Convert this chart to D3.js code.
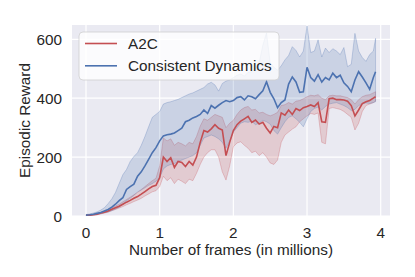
<!DOCTYPE html>
<html>
<head>
<meta charset="utf-8">
<script src="https://cdn.jsdelivr.net/npm/d3@7"></script>
<style>
  body { margin: 0; background: #fff; }
  text { font-family: "Liberation Sans", Arial, sans-serif; fill: #262626; }
</style>
</head>
<body>
<div id="chart"></div>
<script>
// frames (millions)
var frames = [0, 0.05, 0.1, 0.15, 0.2, 0.25, 0.3, 0.35, 0.4, 0.45, 0.5, 0.55, 0.6, 0.65, 0.7, 0.75, 0.8, 0.85, 0.9, 0.95,
  1.0, 1.05, 1.1, 1.15, 1.2, 1.25, 1.3, 1.35, 1.4, 1.45, 1.5, 1.55, 1.6, 1.65, 1.7, 1.75, 1.8, 1.85, 1.9, 1.95,
  2.0, 2.05, 2.1, 2.15, 2.2, 2.25, 2.3, 2.35, 2.4, 2.45, 2.5, 2.55, 2.6, 2.65, 2.7, 2.75, 2.8, 2.85, 2.9, 2.95,
  3.0, 3.05, 3.1, 3.15, 3.2, 3.25, 3.3, 3.35, 3.4, 3.45, 3.5, 3.55, 3.6, 3.65, 3.7, 3.75, 3.8, 3.85, 3.9, 3.93];

// A2C
var a2c = [2, 3, 4, 6, 10, 13, 17, 23, 28, 33, 40, 47, 53, 60, 66, 74, 83, 92, 100, 104,
  130, 200, 185, 198, 165, 185, 182, 168, 185, 173, 200, 250, 290, 285, 296, 310, 298, 292, 205, 250,
  290, 310, 322, 330, 338, 318, 326, 312, 318, 298, 282, 304, 300, 350, 342, 360, 345, 365, 358, 368,
  372, 377, 372, 385, 320, 318, 398, 400, 395, 395, 394, 390, 375, 340, 360, 382, 388, 392, 400, 405];
var a2cLow = [1, 2, 3, 4, 7, 10, 13, 18, 22, 27, 32, 38, 43, 49, 54, 60, 68, 75, 82, 86,
  100, 135, 120, 130, 110, 125, 118, 110, 125, 120, 145, 175, 200, 215, 225, 225, 200, 150, 122, 170,
  235, 248, 252, 240, 230, 215, 220, 205, 215, 200, 180, 175, 190, 250, 275, 285, 295, 303, 320, 330,
  340, 348, 345, 350, 250, 245, 365, 368, 365, 362, 355, 345, 335, 292, 315, 355, 375, 380, 385, 390];
var a2cHigh = [3, 4, 6, 8, 12, 16, 21, 28, 34, 40, 48, 56, 64, 72, 80, 90, 100, 110, 120, 128,
  170, 265, 255, 262, 240, 250, 245, 238, 250, 245, 270, 305, 330, 325, 335, 345, 340, 335, 300, 315,
  325, 345, 360, 368, 372, 360, 362, 350, 352, 345, 340, 345, 352, 375, 378, 385, 380, 390, 392, 398,
  405, 410, 408, 412, 400, 395, 408, 410, 408, 408, 405, 402, 395, 380, 395, 405, 410, 412, 418, 422];

// Consistent Dynamics
var cd = [3, 4, 6, 9, 12, 17, 22, 30, 40, 52, 62, 90, 100, 108, 135, 150, 170, 192, 215, 232,
  255, 272, 276, 278, 282, 290, 298, 320, 325, 333, 338, 345, 360, 348, 375, 366, 376, 385, 392, 388,
  392, 402, 405, 394, 408, 405, 398, 412, 425, 456, 420, 398, 368, 385, 394, 448, 472, 455, 420, 422,
  505, 470, 458, 480, 455, 470, 462, 485, 470, 478, 452, 440, 422, 462, 490, 472, 452, 430, 470, 490];
var cdLow = [2, 3, 4, 6, 8, 11, 14, 18, 24, 30, 40, 52, 60, 70, 82, 88, 96, 104, 110, 118,
  130, 160, 170, 175, 178, 185, 190, 195, 200, 205, 215, 240, 265, 270, 275, 270, 262, 250, 230, 255,
  285, 300, 315, 320, 318, 322, 310, 315, 325, 320, 312, 290, 278, 300, 320, 335, 340, 330, 318, 303,
  330, 355, 365, 370, 360, 372, 380, 383, 385, 380, 375, 368, 358, 362, 375, 380, 384, 382, 385, 388];
var cdHigh = [5, 7, 10, 14, 20, 28, 42, 58, 80, 110, 140, 158, 185, 202, 215, 240, 270, 303, 335, 345,
  355, 380, 385, 388, 392, 396, 402, 408, 414, 418, 424, 430, 436, 448, 454, 445, 424, 450, 458, 462,
  470, 478, 482, 475, 488, 490, 500, 520, 580, 622, 520, 505, 495, 510, 530, 545, 575, 562, 540, 560,
  645, 555, 560, 598, 540, 570, 555, 568, 560, 548, 572, 507, 515, 620, 560, 538, 525, 548, 560, 603];

var xTicks = [0, 1, 2, 3, 4];
var yTicks = [0, 200, 400, 600];
var seriesNames = ["A2C", "Consistent Dynamics"];

// Set the dimensions of the canvas / graph
var margin = {top: 25, right: 25, bottom: 61, left: 72},
    width = 415 - margin.left - margin.right,
    height = 277 - margin.top - margin.bottom;

var x = d3.scaleLinear().domain([-0.19, 4.126]).range([0, width]);
var y = d3.scaleLinear().domain([0, 648.5]).range([height, 0]);

var colors = {"A2C": "#c44e52", "Consistent Dynamics": "#4c72b0"};

var svg = d3.select("#chart")
    .append("svg")
      .attr("width", 415)
      .attr("height", 277)
    .append("g")
      .attr("transform", `translate(${margin.left},${margin.top})`);

// background + grid
svg.append("rect")
    .attr("width", width)
    .attr("height", height)
    .attr("fill", "#eaeaf2");

svg.append("g")
  .selectAll("line")
  .data(xTicks)
  .enter().append("line")
    .attr("x1", function(d) { return x(d); })
    .attr("x2", function(d) { return x(d); })
    .attr("y1", 0)
    .attr("y2", height)
    .attr("stroke", "#fff")
    .attr("stroke-width", 1.2);

svg.append("g")
  .selectAll("line")
  .data(yTicks)
  .enter().append("line")
    .attr("x1", 0)
    .attr("x2", width)
    .attr("y1", function(d) { return y(d); })
    .attr("y2", function(d) { return y(d); })
    .attr("stroke", "#fff")
    .attr("stroke-width", 1.2);

var series = [
  {name: "A2C", mean: a2c, low: a2cLow, high: a2cHigh},
  {name: "Consistent Dynamics", mean: cd, low: cdLow, high: cdHigh}
];

function rows(s) {
  return frames.map(function(f, i) { return {f: f, m: s.mean[i], lo: s.low[i], hi: s.high[i]}; });
}

var area = d3.area()
    .x(function(d) { return x(d.f); })
    .y0(function(d) { return y(d.lo); })
    .y1(function(d) { return y(d.hi); });

var line = d3.line()
    .x(function(d) { return x(d.f); })
    .y(function(d) { return y(d.m); });

var clip = svg.append("clipPath").attr("id", "clip")
  .append("rect").attr("width", width).attr("height", height);

var plot = svg.append("g").attr("clip-path", "url(#clip)");

series.forEach(function(s) {
  plot.append("path")
      .datum(rows(s))
      .attr("d", area)
      .attr("fill", colors[s.name])
      .attr("fill-opacity", 0.2)
      .attr("stroke", colors[s.name])
      .attr("stroke-opacity", 0.35)
      .attr("stroke-width", 0.8);
});

series.forEach(function(s) {
  plot.append("path")
      .datum(rows(s))
      .attr("d", line)
      .attr("fill", "none")
      .attr("stroke", colors[s.name])
      .attr("stroke-width", 1.6);
});

// tick labels
svg.append("g")
  .selectAll("text")
  .data(xTicks)
  .enter().append("text")
    .attr("x", function(d) { return x(d); })
    .attr("y", height + 21.5)
    .attr("text-anchor", "middle")
    .style("font-size", "15.3px")
    .text(function(d) { return d; });

svg.append("g")
  .selectAll("text")
  .data(yTicks)
  .enter().append("text")
    .attr("x", -10)
    .attr("y", function(d) { return y(d); })
    .attr("dy", "0.36em")
    .attr("text-anchor", "end")
    .style("font-size", "15.3px")
    .text(function(d) { return d; });

// axis labels
svg.append("text")
    .attr("x", width / 2)
    .attr("y", height + 38.5)
    .attr("text-anchor", "middle")
    .style("font-size", "15.3px")
    .text("Number of frames (in millions)");

svg.append("text")
    .attr("transform", "rotate(-90)")
    .attr("x", -height / 2)
    .attr("y", 30 - margin.left)
    .attr("text-anchor", "middle")
    .style("font-size", "15.3px")
    .text("Episodic Reward");

// legend
var legend = svg.append("g")
    .attr("transform", "translate(7,7)");

legend.append("rect")
    .attr("width", 200)
    .attr("height", 48)
    .attr("rx", 4)
    .attr("fill", "#fff")
    .attr("fill-opacity", 0.8)
    .attr("stroke", "#cfcfcf")
    .attr("stroke-width", 0.8);

var item = legend.selectAll(".item")
    .data(seriesNames)
  .enter().append("g")
    .attr("transform", function(d, i) { return "translate(0," + (11.5 + i * 22.3) + ")"; });

item.append("line")
    .attr("x1", 6)
    .attr("x2", 38)
    .attr("stroke", function(d) { return colors[d]; })
    .attr("stroke-width", 1.6);

item.append("text")
    .attr("x", 49)
    .attr("dy", "0.36em")
    .style("font-size", "15.3px")
    .text(function(d) { return d; });
</script>
</body>
</html>
